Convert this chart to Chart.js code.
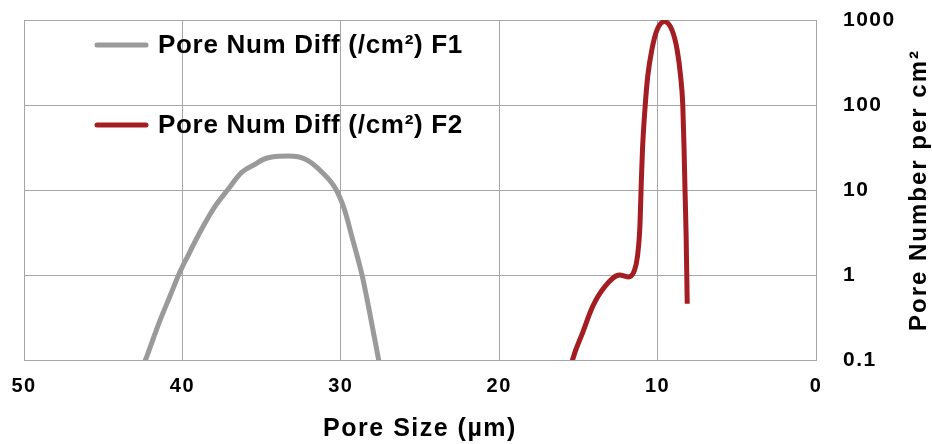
<!DOCTYPE html>
<html>
<head>
<meta charset="utf-8">
<script src="https://cdn.jsdelivr.net/npm/chart.js@4"></script>
<style>
  html, body { margin: 0; padding: 0; background: #fff; }
  #wrap { width: 932px; height: 444px; }
</style>
</head>
<body>
<div id="wrap"><canvas id="mycanvas"></canvas></div>
<script>
// pore size (um) and pore number per cm2
var f1Size = [42.48, 42.33, 41.42, 40.71, 40.24, 39.66, 38.81, 37.96, 37.15, 36.26, 35.41, 34.89, 34.35, 33.29, 32.23, 31.17, 30.32, 29.79, 29.25, 28.66, 28.2, 27.66, 27.55];
var f1Num  = [0.085, 0.1, 0.29, 0.61, 1.0, 1.67, 3.4, 6.34, 10, 16.1, 20.1, 22.9, 24.4, 25.1, 23.0, 16.1, 10.3, 6.05, 2.61, 1.0, 0.38, 0.112, 0.087];

var f2Size = [15.45, 15.37, 14.73, 14.09, 13.33, 12.4, 11.87, 11.48, 11.27, 11.12, 11.02, 10.95, 10.78, 10.62, 10.36, 10.04, 9.57, 9.09, 8.77, 8.55, 8.41, 8.33, 8.27, 8.2, 8.13];
var f2Num  = [0.085, 0.1, 0.21, 0.43, 0.73, 1.0, 0.95, 1.11, 1.66, 3.67, 13.8, 31, 100, 220, 450, 760, 960, 760, 450, 220, 100, 31, 10, 3, 0.46];

var xTicks = [50, 40, 30, 20, 10, 0];
var yTicks = [0.1, 1, 10, 100, 1000];

var seriesNames = ["Pore Num Diff (/cm²) F1", "Pore Num Diff (/cm²) F2"];
var seriesColors = ["#9a9a9a", "#a31d22"];
var xTitle = "Pore Size (µm)";
var yTitle = "Pore Number per cm²";

function toPoints(xs, ys) {
  var pts = [];
  for (var i in xs) {
    pts.push({x: xs[i], y: ys[i]});
  }
  return pts;
}

var FONT = "'Liberation Sans', Arial, sans-serif";

var extras = {
  id: "extras",
  beforeDraw: function(chart) {
    chart.ctx.letterSpacing = "1.5px";
  },
  afterDraw: function(chart) {
    var ctx = chart.ctx;
    var area = chart.chartArea;
    ctx.save();
    // legend inside the plot
    for (var i = 0; i < chart.data.datasets.length; i++) {
      var ds = chart.data.datasets[i];
      var y = 45 + i * 80;
      ctx.strokeStyle = ds.borderColor;
      ctx.lineWidth = 5;
      ctx.lineCap = "round";
      ctx.beginPath();
      ctx.moveTo(97, y);
      ctx.lineTo(146, y);
      ctx.stroke();
      ctx.fillStyle = "#000";
      ctx.font = "bold 26px " + FONT;
      ctx.letterSpacing = "0.7px";
      ctx.textAlign = "left";
      ctx.textBaseline = "middle";
      ctx.fillText(ds.label, 158, y + 1);
    }
    // right axis title, reading bottom to top
    ctx.translate(919, (area.top + area.bottom) / 2);
    ctx.rotate(-Math.PI / 2);
    ctx.font = "bold 24px " + FONT;
    ctx.letterSpacing = "2px";
    ctx.textAlign = "center";
    ctx.textBaseline = "middle";
    ctx.fillStyle = "#000";
    ctx.fillText(yTitle, 0, 0);
    ctx.restore();
  }
};

var chartdata = {
  datasets: [
    {
      label: seriesNames[0],
      data: toPoints(f1Size, f1Num),
      borderColor: seriesColors[0],
      backgroundColor: seriesColors[0],
      borderWidth: 5,
      fill: false,
      pointRadius: 0,
      cubicInterpolationMode: "monotone"
    },
    {
      label: seriesNames[1],
      data: toPoints(f2Size, f2Num),
      borderColor: seriesColors[1],
      backgroundColor: seriesColors[1],
      borderWidth: 5,
      fill: false,
      pointRadius: 0,
      cubicInterpolationMode: "monotone"
    }
  ]
};

var ctx = document.getElementById("mycanvas");

var LineGraph = new Chart(ctx, {
  type: "line",
  data: chartdata,
  plugins: [extras],
  options: {
    responsive: true,
    maintainAspectRatio: false,
    animation: false,
    layout: { padding: { left: 24, top: 20, right: 0, bottom: 0 } },
    plugins: {
      legend: { display: false },
      tooltip: { enabled: false }
    },
    scales: {
      x: {
        type: "linear",
        position: "bottom",
        reverse: true,
        min: 0,
        max: 50,
        afterBuildTicks: function(scale) {
          scale.ticks = xTicks.map(function(v) { return {value: v}; });
        },
        afterFit: function(scale) {
          scale.height = 84;
          scale.paddingLeft = 0;
          scale.paddingRight = 0;
        },
        grid: { color: "#a6a6a6", lineWidth: 1, drawTicks: false },
        border: { color: "#a6a6a6", width: 1 },
        ticks: {
          padding: 14,
          color: "#000",
          font: { family: FONT, size: 20, weight: "bold" },
          maxRotation: 0
        },
        title: {
          display: true,
          text: xTitle,
          color: "#000",
          font: { family: FONT, size: 25, weight: "bold" },
          padding: { top: 0, bottom: 0 }
        }
      },
      y: {
        type: "logarithmic",
        position: "right",
        min: 0.1,
        max: 1000,
        afterBuildTicks: function(scale) {
          scale.ticks = yTicks.map(function(v) { return {value: v, major: true}; });
        },
        afterFit: function(scale) {
          scale.width = 116;
          scale.paddingTop = 0;
          scale.paddingBottom = 0;
        },
        grid: { color: "#a6a6a6", lineWidth: 1, drawTicks: false },
        border: { color: "#a6a6a6", width: 1 },
        ticks: {
          padding: 27,
          color: "#000",
          font: { family: FONT, size: 21, weight: "bold" },
          callback: function(v) { return String(v); }
        },
        title: { display: false }
      }
    }
  }
});
</script>
</body>
</html>
